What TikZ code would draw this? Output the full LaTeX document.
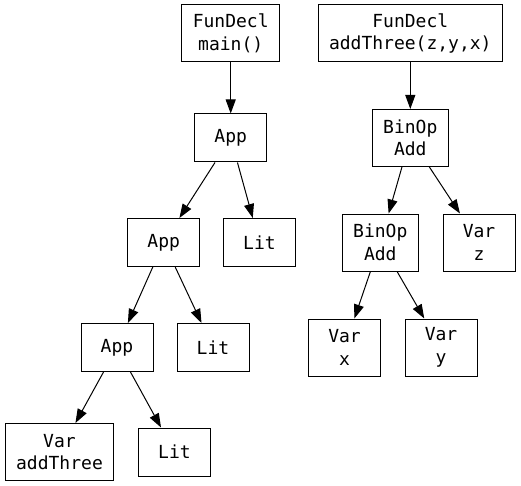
\documentclass[tikz,border=0pt]{standalone}
\usepackage{fontspec}
\newfontfamily\monofam{DejaVu Sans Mono}
\usetikzlibrary{arrows.meta}
\tikzset{
  box/.style={draw=black, line width=1pt, rectangle, align=center,
    font=\monofam\fontsize{18}{22.5}\selectfont,
    inner xsep=11pt, inner ysep=2pt, minimum width=72pt, minimum height=48pt},
  twoline/.style={box, minimum height=57pt},
  edge/.style={draw=black, line width=1pt, -{Triangle[length=14pt,width=10pt]}}
}
\begin{document}
\begin{tikzpicture}[x=1pt,y=-1pt]
\useasboundingbox (0,0) rectangle (521,486);
\node[twoline] (f1) at (230.7,33.5) {FunDecl\\main()};
\node[twoline] (f2) at (410.3,33.5) {FunDecl\\addThree(z,y,x)};
\node[box] (a1) at (230.7,138) {App};
\node[twoline] (b1) at (410.3,138) {BinOp\\Add};
\node[box] (a2) at (163.7,242.5) {App};
\node[box] (l1) at (259.5,242.5) {Lit};
\node[twoline] (b2) at (380.3,242.5) {BinOp\\Add};
\node[twoline] (vz) at (479,242.5) {Var\\z};
\node[box] (a3) at (117,347.5) {App};
\node[box] (l2) at (213,347.5) {Lit};
\node[twoline] (vx) at (344.5,347.5) {Var\\x};
\node[twoline] (vy) at (441,347.5) {Var\\y};
\node[twoline] (va) at (59.5,452) {Var\\addThree};
\node[box] (l3) at (174.5,452) {Lit};
\draw[edge] (f1) -- (a1);
\draw[edge] (f2) -- (b1);
\draw[edge] (a1) -- (a2);
\draw[edge] (a1) -- (l1);
\draw[edge] (b1) -- (b2);
\draw[edge] (b1) -- (vz);
\draw[edge] (a2) -- (a3);
\draw[edge] (a2) -- (l2);
\draw[edge] (b2) -- (vx);
\draw[edge] (b2) -- (vy);
\draw[edge] (a3) -- (va);
\draw[edge] (a3) -- (l3);
\end{tikzpicture}
\end{document}
